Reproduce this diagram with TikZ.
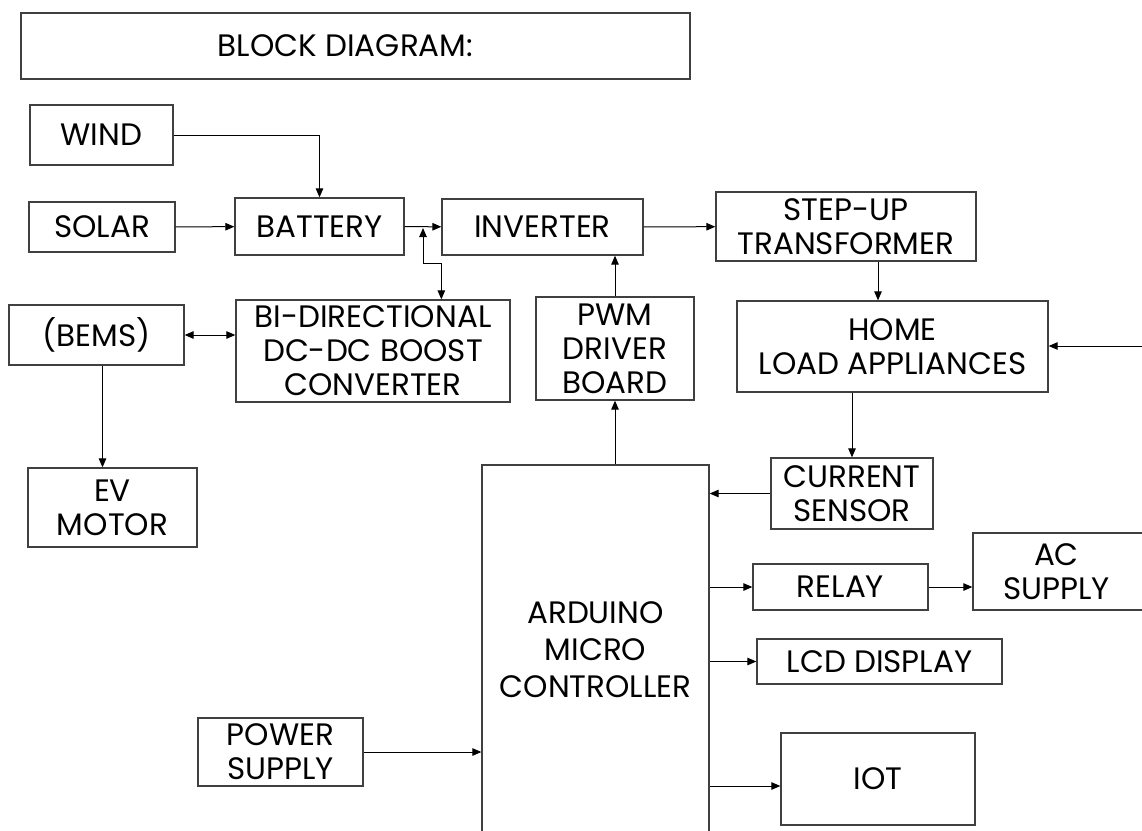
\documentclass[tikz,border=0pt]{standalone}
\usepackage{fontspec}
\setmainfont{Poppins}
\usetikzlibrary{arrows.meta,calc,positioning}

\begin{document}
\begin{tikzpicture}[
    x=1pt,
    y=-1pt,
    blk/.style={draw=black!75, line width=1.3pt, inner xsep=0pt, inner ysep=-6pt, align=center,
        font=\fontsize{31}{34}\selectfont},
    arr/.style={-{Triangle[length=9pt,width=7.5pt]}, line width=1pt},
    arrs/.style={{Triangle[length=9pt,width=7.5pt]}-{Triangle[length=9pt,width=7.5pt]}, line width=1pt}
]

\useasboundingbox (0,0) rectangle (1142,830);
\clip (0,0) rectangle (1142,830);


% Title
\node[blk, minimum width=669, minimum height=66] (title) at (355.5,46) {\hspace*{-20pt}BLOCK DIAGRAM:};


% Sources and storage
\node[blk, minimum width=143, minimum height=60] (wind) at (101.5,135) {WIND};
\node[blk, minimum width=146, minimum height=50] (solar) at (102,227) {SOLAR};
\node[blk, minimum width=169, minimum height=57] (battery) at (319.5,226.5) {BATTERY};
\node[blk, minimum width=201, minimum height=56] (inverter) at (542.5,227) {INVERTER};
\node[blk, minimum width=260, minimum height=69] (stepup) at (846,226.5) {STEP-UP\\TRANSFORMER};


% Converter row
\node[blk, minimum width=175, minimum height=60] (bems) at (96.5,335) {(BEMS)};
\node[blk, minimum width=274, minimum height=102] (bidir) at (373,351) {BI-DIRECTIONAL\\DC-DC BOOST\\CONVERTER};
\node[blk, minimum width=158, minimum height=103] (pwm) at (615,348.5) {PWM\\DRIVER\\BOARD};
\node[blk, minimum width=311, minimum height=91] (home) at (892.5,346.5) {HOME\\LOAD APPLIANCES};
\node[blk, minimum width=169, minimum height=79] (ev) at (112.5,507.5) {EV\\MOTOR};


% Controller and peripherals
\node[blk, minimum width=227, minimum height=375] (ard) at (595.5,652.5) {};
\node[align=center, inner sep=0pt, font=\fontsize{31}{37}\selectfont] (ardtxt) at (595.5,650) {ARDUINO\\MICRO\\CONTROLLER};
\node[blk, minimum width=162, minimum height=71] (current) at (852,493.5) {CURRENT\\SENSOR};
\node[blk, minimum width=175, minimum height=46] (relay) at (840.5,587) {RELAY};
\node[blk, minimum width=177, minimum height=77] (ac) at (1061.5,571.5) {\hspace*{-10pt}AC\\\hspace*{-10pt}SUPPLY};
\node[blk, minimum width=245, minimum height=45] (lcd) at (879.5,661.5) {LCD DISPLAY};
\node[blk, minimum width=165, minimum height=68] (power) at (280.5,752) {POWER\\SUPPLY};
\node[blk, minimum width=194, minimum height=92] (iot) at (878,779) {IOT};


% Connectors
\coordinate (tap) at (423,228);
\coordinate (feed) at (1142,346);

\draw[arr] (wind.east) -| (battery.north);
\draw[arr] (solar) -- (battery);
\draw[arr] (battery) -- (inverter);
\draw[arrs] (tap) -- ++(0,35) -| ([xshift=206pt]bidir.north west);
\draw[arr] (inverter) -- (stepup);
\draw[arr] ([xshift=32pt]stepup.south) -- ([xshift=32pt]stepup.south |- home.north);
\draw[arr] (feed) -- (feed -| home.east);

\draw[arrs] (bems.east) -- (bems.east -| bidir.west);
\draw[arr] ([xshift=6pt]bems.south) -- ([xshift=6pt]bems.south |- ev.north);
\draw[arr] (pwm) -- (pwm |- inverter.south);

\draw[arr] (ard.north -| pwm) -- (pwm.south);
\draw[arr] (home.south -| current) -- (current);
\draw[arr] (current) -- (current -| ard.east);
\draw[arr] (relay -| ard.east) -- (relay);
\draw[arr] (relay) -- (relay -| ac.west);
\draw[arr] (lcd -| ard.east) -- (lcd);
\draw[arr] (power) -- (power -| ard.west);
\draw[arr] ([yshift=-7pt]iot.west -| ard.east) -- ([yshift=-7pt]iot.west);


\end{tikzpicture}
\end{document}
